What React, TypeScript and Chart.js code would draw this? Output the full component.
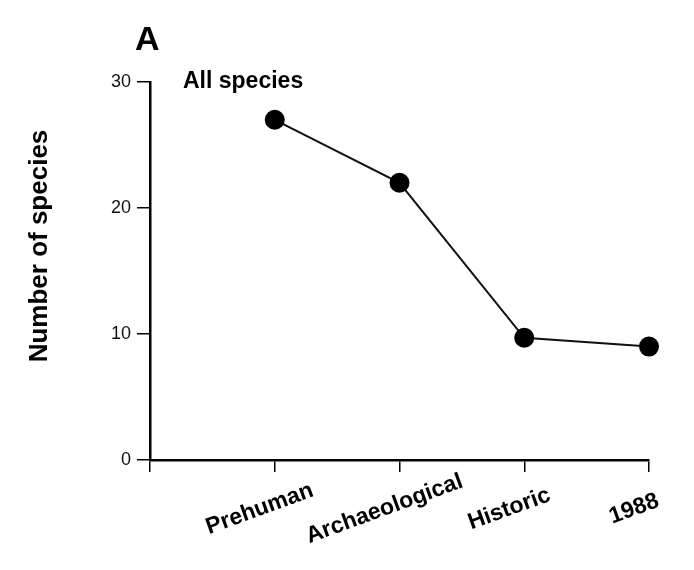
import React, { useEffect, useRef } from "react";
import { Chart, registerables } from "chart.js";

Chart.register(...registerables);

const categories = ["Prehuman", "Archaeological", "Historic", "1988"];
const categoryPositions = [1, 2, 3, 4];
const speciesCounts = [27, 22, 9.7, 9];
const yTickValues = [0, 10, 20, 30];
const panelLabel = "A";
const seriesLabel = "All species";
const yAxisTitle = "Number of species";

const FONT = "'Liberation Sans', Arial, Helvetica, sans-serif";

export default function App() {
  const ref = useRef<HTMLCanvasElement>(null);

  useEffect(() => {
    if (!ref.current) return;
    const textPlugin = {
      id: "texts",
      afterDraw(chart: any) {
        const ctx = chart.ctx;
        const xs = chart.scales.x;
        ctx.save();
        ctx.fillStyle = "#000";
        ctx.textAlign = "left";
        ctx.textBaseline = "alphabetic";
        ctx.font = `bold 34px ${FONT}`;
        ctx.fillText(panelLabel, 127, 42);
        ctx.font = `bold 23px ${FONT}`;
        ctx.fillText(seriesLabel, 175, 80);

        ctx.save();
        ctx.translate(32, 238);
        ctx.rotate(-Math.PI / 2);
        ctx.textAlign = "center";
        ctx.textBaseline = "middle";
        ctx.font = `bold 26px ${FONT}`;
        ctx.fillText(yAxisTitle, 0, 0);
        ctx.restore();

        categories.forEach((c, i) => {
          const px = xs.getPixelForValue(categoryPositions[i]);
          ctx.save();
          ctx.translate(px - 15, 501);
          ctx.rotate((-20 * Math.PI) / 180);
          ctx.textAlign = "center";
          ctx.textBaseline = "middle";
          ctx.font = `bold 23px ${FONT}`;
          ctx.fillText(c, 0, 0);
          ctx.restore();
        });
        ctx.restore();
      },
    };

    const chart = new Chart(ref.current, {
      type: "line",
      data: {
        datasets: [
          {
            label: seriesLabel,
            data: categoryPositions.map((x, i) => ({ x, y: speciesCounts[i] })),
            borderColor: "#111",
            backgroundColor: "#000",
            borderWidth: 2,
            pointRadius: 10,
            pointBackgroundColor: "#000",
            pointBorderColor: "#000",
            pointBorderWidth: 0,
            tension: 0,
            clip: false as any,
          },
        ],
      },
      options: {
        animation: false,
        responsive: true,
        maintainAspectRatio: false,
        layout: { padding: { top: 74, right: 37, left: 0, bottom: 0 } },
        plugins: { legend: { display: false }, tooltip: { enabled: false } },
        scales: {
          x: {
            type: "linear",
            min: 0,
            max: categories.length,
            afterFit: (s: any) => {
              s.height = 102;
            },
            afterBuildTicks: (s: any) => {
              s.ticks = [0, ...categoryPositions].map((v) => ({ value: v }));
            },
            ticks: { callback: () => "", padding: 0 },
            grid: {
              drawOnChartArea: false,
              drawTicks: true,
              tickLength: 12,
              color: "#000",
              lineWidth: 1.5,
            },
            border: { display: true, color: "#000", width: 2.5 },
          },
          y: {
            min: 0,
            max: 30,
            afterFit: (s: any) => {
              s.width = 142;
            },
            afterBuildTicks: (s: any) => {
              s.ticks = yTickValues.map((v) => ({ value: v }));
            },
            ticks: {
              color: "#111",
              padding: 6,
              font: { family: FONT, size: 18 },
            },
            grid: {
              drawOnChartArea: false,
              drawTicks: true,
              tickLength: 13,
              color: "#000",
              lineWidth: 1.5,
            },
            border: { display: true, color: "#000", width: 2.5 },
          },
        },
      },
      plugins: [textPlugin],
    });
    return () => chart.destroy();
  }, []);

  return (
    <div style={{ position: "relative", width: 678, height: 554 }}>
      <canvas ref={ref} />
    </div>
  );
}
